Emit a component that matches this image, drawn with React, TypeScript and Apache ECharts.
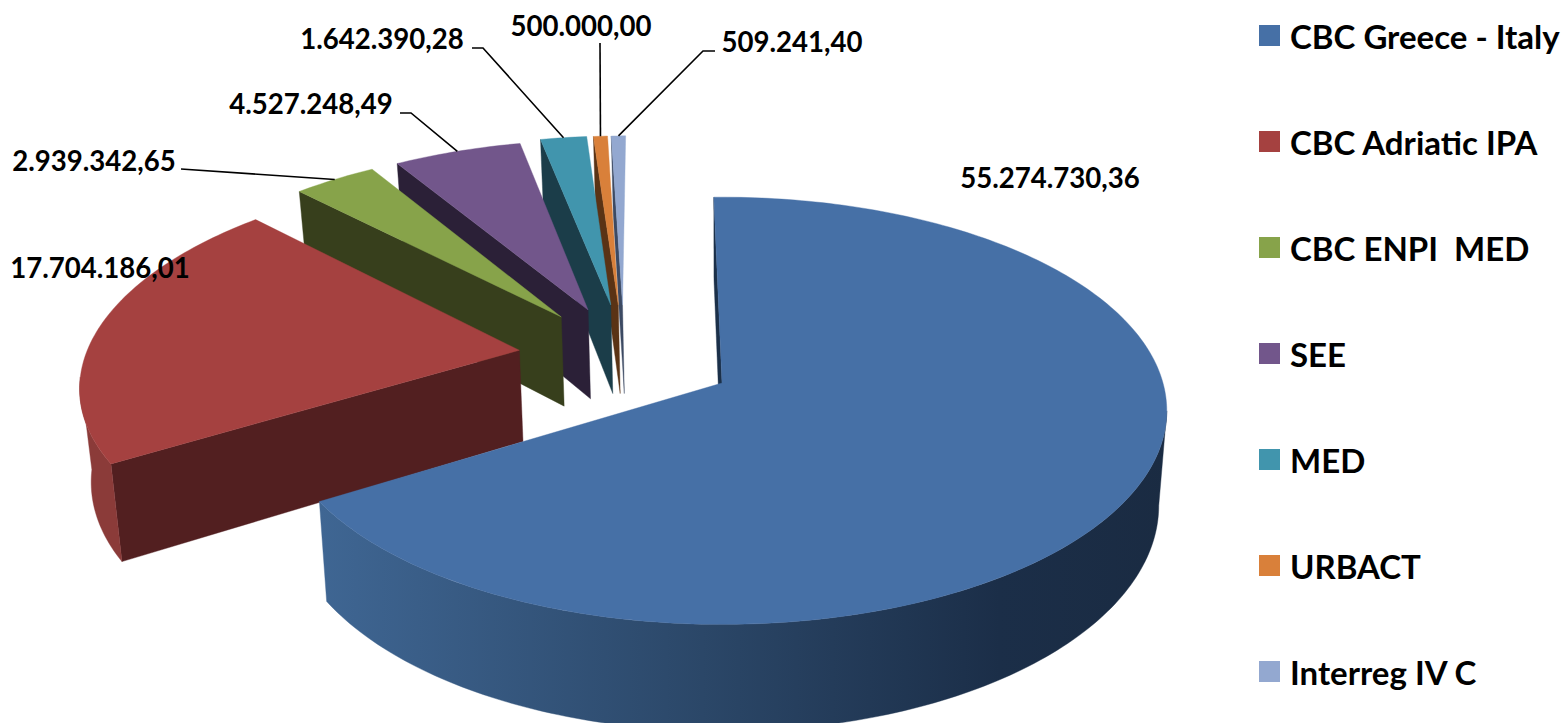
import React, { useEffect, useRef } from "react";
import * as echarts from "echarts";

const categories = ["CBC Greece - Italy", "CBC Adriatic IPA", "CBC ENPI  MED", "SEE", "MED", "URBACT", "Interreg IV C"];
const values = [55274730.36, 17704186.01, 2939342.65, 4527248.49, 1642390.28, 500000.0, 509241.4];

// slice styling, in the same order as categories
const topColors = ["#4670A6", "#A54140", "#87A34A", "#72568B", "#4195AD", "#D9803A", "#93A8D0"];
const sideColors = ["#1B3049", "#521F20", "#373F1C", "#2B2037", "#1B3D49", "#5A3315", "#3C4A63"];
const rimColors = ["", "#8B3B39", "#373F1C", "#2B2037", "#1B3D49", "#5A3315", "#3C4A63"];
// how far each slice is pulled out of the pie, in units of the pie's radius
const explodeX = [0, -0.469, -0.38, -0.318, -0.265, -0.247, -0.237];
const explodeY = [0, 0.159, 0.328, 0.364, 0.39, 0.39, 0.39];

// label layout: text centre, and the elbow of the leader line (null = no leader)
const labelX = [1050, 100, 94, 311, 382, 581, 792];
const labelY = [177, 267, 160, 103, 38, 25, 41];
const leaders: (number[][] | null)[] = [
  null,
  null,
  [[181, 169]],
  [[400, 113], [411, 113]],
  [[472, 48], [483, 48]],
  [[600, 43]],
  [[715, 51], [703, 51]],
];

// view
const CX = 722;
const CY = 383;
const RX = 441;
const KY = 210;
const PERSP = 0.13;
const DEPTH = 93;
const SHRINK = 0.018;
const ROT = -1.2;
// the outer wall faces the viewer only within this many degrees of the front
const RIM_VISIBLE = 82.5;

const FONT = "Lato";
const total = values.reduce((a, b) => a + b, 0);

function fmt(v: number): string {
  const [i, d] = v.toFixed(2).split(".");
  return i.replace(/\B(?=(\d{3})+(?!\d))/g, ".") + "," + d;
}

function project(x: number, y: number, z: number): number[] {
  const w = 1 + PERSP * y;
  return [CX + ((RX * x) / w) * (1 - SHRINK * z), CY - (KY * y) / w + (DEPTH * z) / w];
}

function sliceAngles(i: number): number[] {
  let before = 0;
  for (let k = 0; k < i; k++) before += values[k];
  return [ROT + (before / total) * 360, ROT + ((before + values[i]) / total) * 360];
}

function rimPoint(i: number, deg: number, z: number): number[] {
  const a = (deg * Math.PI) / 180;
  return project(explodeX[i] + Math.sin(a), explodeY[i] + Math.cos(a), z);
}

function arc(i: number, z: number, a0: number, a1: number): number[][] {
  const n = Math.max(3, Math.ceil(a1 - a0));
  const pts: number[][] = [];
  for (let s = 0; s <= n; s++) pts.push(rimPoint(i, a0 + ((a1 - a0) * s) / n, z));
  return pts;
}

function poly(points: number[][], fill: any) {
  return { type: "polygon", shape: { points }, style: { fill, stroke: fill, lineWidth: 0.4 } };
}

function renderSlice(i: number) {
  return () => {
    const [a0, a1] = sliceAngles(i);
    const apexT = project(explodeX[i], explodeY[i], 0);
    const apexB = project(explodeX[i], explodeY[i], 1);
    const top = arc(i, 0, a0, a1);
    const startT = rimPoint(i, a0, 0);
    const startB = rimPoint(i, a0, 1);
    const children: any[] = [poly([apexT, apexB, startB, startT], sideColors[i])];
    const r0 = Math.max(a0, 180 - RIM_VISIBLE);
    const r1 = Math.min(a1, 180 + RIM_VISIBLE);
    if (r1 > r0) {
      const rimFill =
        i === 0
          ? new echarts.graphic.LinearGradient(
              320,
              0,
              1170,
              0,
              [
                { offset: 0, color: "#3F6693" },
                { offset: 0.45, color: "#2B4768" },
                { offset: 0.8, color: "#1B2E48" },
                { offset: 1, color: "#1A2B42" },
              ],
              true
            )
          : rimColors[i];
      children.push(poly([...arc(i, 0, r0, r1), ...arc(i, 1, r0, r1).reverse()], rimFill));
    }
    children.push(poly([apexT, ...top], topColors[i]));
    return { type: "group", children };
  };
}

function renderLabel(params: any) {
  const i = params.dataIndex;
  const children: any[] = [];
  const elbow = leaders[i];
  if (elbow) {
    const [a0, a1] = sliceAngles(i);
    const end = rimPoint(i, (a0 + a1) / 2, 0);
    children.push({
      type: "polyline",
      shape: { points: [...elbow, end] },
      style: { fill: "none", stroke: "#000", lineWidth: 1.6 },
    });
  }
  children.push({
    type: "text",
    x: labelX[i],
    y: labelY[i],
    style: {
      text: fmt(values[i]),
      fill: "#000",
      font: `bold 27.6px ${FONT}`,
      align: "center",
      verticalAlign: "middle",
    },
  });
  return { type: "group", children };
}

export default function App() {
  const ref = useRef<HTMLDivElement>(null);
  useEffect(() => {
    const chart = echarts.init(ref.current!, null, { renderer: "svg" });
    const drawOrder = [6, 5, 4, 3, 2, 1, 0];
    chart.setOption({
      animation: false,
      backgroundColor: "#fff",
      legend: {
        data: categories,
        orient: "vertical",
        left: 1259,
        top: 19,
        height: 700,
        padding: 0,
        icon: "rect",
        itemWidth: 21,
        itemHeight: 21,
        itemGap: 73,
        selectedMode: false,
        textStyle: {
          fontFamily: FONT,
          fontWeight: "bold",
          fontSize: 33,
          color: "#000",
          padding: [0, 0, 0, 5],
        },
      },
      series: [
        ...drawOrder.map((i) => ({
          type: "custom",
          name: categories[i],
          coordinateSystem: "none",
          silent: true,
          itemStyle: { color: topColors[i] },
          data: [values[i]],
          renderItem: renderSlice(i),
        })),
        {
          type: "custom",
          name: "labels",
          coordinateSystem: "none",
          silent: true,
          data: values,
          renderItem: renderLabel,
        },
      ],
    });
    return () => chart.dispose();
  }, []);
  return <div ref={ref} style={{ position: "fixed", left: 0, top: 0, width: 1568, height: 723 }} />;
}
